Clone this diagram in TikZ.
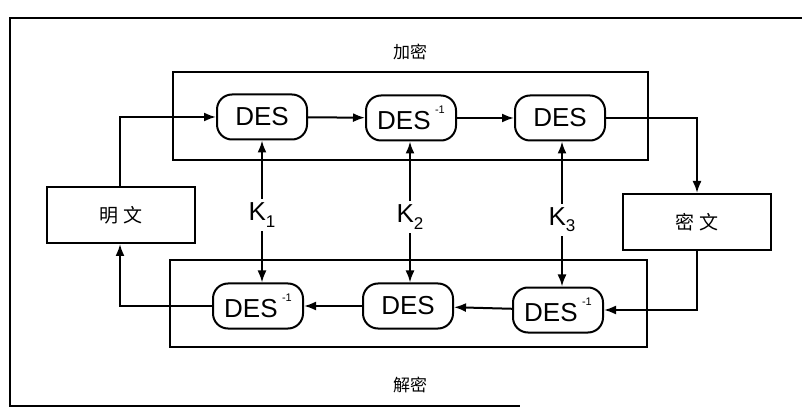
\documentclass[tikz,border=0pt]{standalone}
\usepackage{fontspec}
\setmainfont{Liberation Sans}
\newfontfamily\cjk{Noto Sans CJK SC}
\usetikzlibrary{arrows.meta}
\newcommand{\inv}{\,\raisebox{1.2ex}{\fontsize{11}{11}\selectfont -1}}
\newcommand{\ksub}[1]{K\raisebox{-0.45ex}{\fontsize{17}{17}\selectfont #1}}
\begin{document}
\begin{tikzpicture}[x=1pt,y=-1pt,line width=2pt,
  desbox/.style={draw,rounded corners=15pt,minimum width=90pt,minimum height=45pt,inner sep=0pt,font=\fontsize{26}{26}\selectfont},
  txtbox/.style={draw,minimum width=148pt,minimum height=56pt,font=\cjk\fontsize{19}{19}\selectfont},
  grp/.style={draw},
  arr/.style={-{Latex[length=12pt,width=9pt]}},
  lbl/.style={font=\cjk\fontsize{17}{17}\selectfont},
  klbl/.style={font=\fontsize{26}{26}\selectfont,inner sep=3pt}]
\useasboundingbox (0,0) rectangle (802,419);
% outer frame
\draw (802,18) -- (10,18) -- (10,406) -- (520,406);
% groups
\draw[grp] (173,72) rectangle (648,160);
\draw[grp] (170,260) rectangle (647,347);
\node[lbl] (enc) at (410,52) {加密};
\node[lbl] (dec) at (410,385) {解密};
% nodes
\node[desbox] (e1) at (262,117) {DES};
\node[desbox] (e2) at (411,118) {DES\inv};
\node[desbox] (e3) at (560,118) {DES};
\node[desbox] (d1) at (258,306) {DES\inv};
\node[desbox] (d2) at (408,306) {DES};
\node[desbox] (d3) at (558,310) {DES\inv};
\node[txtbox] (p) at (121,215) {明 文};
\node[txtbox] (c) at (697,222) {密 文};
\node[klbl] (k1) at (262,215) {\ksub{1}};
\node[klbl] (k2) at (410,217) {\ksub{2}};
\node[klbl] (k3) at (562,220) {\ksub{3}};
% encryption flow
\draw[arr] (p.north -| 120,0) |- (e1.west);
\draw[arr] (e1) -- (e2);
\draw[arr] (e2) -- (e3);
\draw[arr] (e3.east) -| (c.north);
% decryption flow
\draw[arr] (c.south) |- (d3.east);
\draw[arr] (d3) -- (d2);
\draw[arr] (d2) -- (d1);
\draw[arr] (d1.west) -| (p.south -| 120,0);
% keys
\draw[arr] (k1) -- (e1.south -| k1);
\draw[arr] (k2) -- (e2.south -| k2);
\draw[arr] (k3) -- (e3.south -| k3);
\draw[arr] (k1) -- (d1.north -| k1);
\draw[arr] (k2) -- (d2.north -| k2);
\draw[arr] (k3) -- (d3.north -| k3);
\end{tikzpicture}
\end{document}
